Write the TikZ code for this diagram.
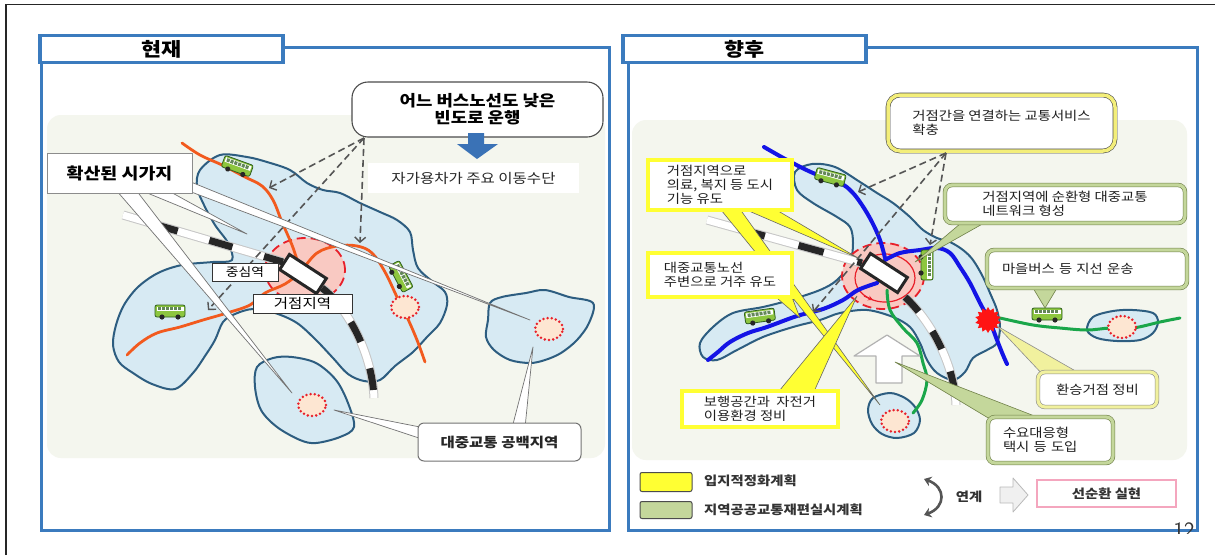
\documentclass[tikz,border=0pt]{standalone}
\usepackage{fontspec}
\newfontfamily\kr[FakeStretch=1.15]{Noto Sans CJK KR}
\newcommand\krfont[2]{\kr\fontsize{#1}{#2}\selectfont}
\usetikzlibrary{arrows.meta,shapes.geometric,calc}

\definecolor{frameblue}{HTML}{3B7BBE}
\definecolor{bgpale}{HTML}{F4F6EE}
\definecolor{islandfill}{HTML}{D7EAF3}
\definecolor{islandline}{HTML}{2D5D80}
\definecolor{orangeline}{HTML}{F25A1E}
\definecolor{blueline}{HTML}{1414E6}
\definecolor{greenline}{HTML}{1AA64A}
\definecolor{pinkzone}{HTML}{F9C9C2}
\definecolor{redmark}{HTML}{E8202A}
\definecolor{peach}{HTML}{FDE6D2}
\definecolor{calloutyellow}{HTML}{FFFF33}
\definecolor{calloutgreen}{HTML}{C4D79B}
\definecolor{gedge}{HTML}{6F8048}
\definecolor{paleyellow}{HTML}{F1F19E}
\definecolor{linkyellow}{HTML}{F3EE7A}
\definecolor{arrowblue}{HTML}{3A72B6}
\definecolor{dashgray}{HTML}{555555}
\definecolor{busgreen}{HTML}{8DC63F}
\definecolor{busedge}{HTML}{2F5F20}
\definecolor{pinkborder}{HTML}{F4A6BE}
\definecolor{redstar}{HTML}{FF1414}

\begin{document}
\begin{tikzpicture}[x=1pt, y=-1pt,
  panelframe/.style={draw=frameblue, line width=3pt},
  headbox/.style={draw=frameblue, line width=3.5pt, fill=white, inner sep=0pt,
    minimum width=243pt, minimum height=27pt, font={\krfont{19}{20}\bfseries}},
  island/.style={fill=islandfill, draw=islandline, line width=2pt, line join=round},
  orangeroute/.style={draw=orangeline, line width=2.8pt, line cap=round, line join=round},
  blueroute/.style={draw=blueline, line width=4pt, line cap=round, line join=round},
  greenroute/.style={draw=greenline, line width=3pt, line cap=round, line join=round},
  reddash/.style={draw=redmark, line width=1.8pt, dash pattern=on 9pt off 5pt},
  dotcircle/.style={draw=redmark, fill=peach, line width=2.8pt, line cap=round, dash pattern=on 0pt off 4.2pt},
  rail/.style={draw=white, line width=7pt,
    preaction={draw=gray!45, line width=9pt}},
  raildash/.style={draw=black!85, line width=7pt},
  station/.style={draw=black!85, line width=3pt, fill=white, inner sep=0pt,
    minimum width=44pt, minimum height=18pt},
  dasharrow/.style={draw=dashgray, line width=1.6pt, dash pattern=on 7pt off 4pt,
    -{Straight Barb[length=5pt, width=11pt, line width=1.4pt]}},
  wwedge/.style={fill=white, draw=black!55, line width=0.7pt, line join=round},
  ywedge/.style={fill=calloutyellow, draw=black!60, line width=0.6pt, line join=round},
  gwedge/.style={fill=calloutgreen, draw=gedge, line width=0.6pt, line join=round},
  pwedge/.style={fill=paleyellow, draw=black!45, line width=0.6pt, line join=round},
  label box/.style={draw=black!80, line width=1pt, fill=white, inner sep=0pt},
  ybox/.style={draw=black!70, double=calloutyellow, double distance=3.2pt, line width=0.6pt,
    fill=white, align=left, inner sep=0pt, font={\krfont{12.5}{14}}, text=black!88},
  gbox/.style={draw=gedge, double=calloutgreen, double distance=3.2pt, line width=0.6pt,
    fill=white, rounded corners=7pt, align=left, inner sep=0pt, font={\krfont{12.5}{14}}, text=black!88},
  pbox/.style={draw=black!45, double=paleyellow, double distance=3.2pt, line width=0.6pt,
    fill=white, rounded corners=7pt, inner sep=0pt, font={\krfont{12.5}{14}}, text=black!88},
  bus/.pic={
    \filldraw[fill=busgreen, draw=busedge, line width=0.8pt, rounded corners=2pt] (-15,-7) rectangle (15,5);
    \fill[white] (-13.5,-5.5) rectangle (13.5,-0.8);
    \foreach \wx in {-12,-8,-4,0,4,8} \fill[busedge!75] (\wx,-5) rectangle ({\wx+3},-1.6);
    \fill[black!85] (-8,5) circle[radius=2.6pt] (8,5) circle[radius=2.6pt];
  }
]
\useasboundingbox (0,0) rectangle (1215,555);
\fill[white] (0,0) rectangle (1215,555);

% page edge
\draw[line width=1.3pt, black!85] (6,555) -- (6,4.5) -- (1215,4.5);

% ================= left panel : present =================
\draw[panelframe] (41,49) |- (609,530) |- (283,47);
\fill[bgpale, rounded corners=14pt] (47,115) rectangle (605,458);

% built-up areas
\draw[island] plot[smooth cycle, tension=0.55] coordinates {
  (200,170) (220,155) (247,157) (267,162) (290,170) (307,183) (323,190) (340,193)
  (360,203) (380,212) (397,220) (410,232) (413,250) (418,268) (433,282) (445,292)
  (447,305) (440,323) (427,337) (413,352) (395,366) (380,380) (364,381) (348,374)
  (333,358) (316,340) (297,323) (275,313) (253,309) (235,314) (223,322) (215,340)
  (205,356) (193,373) (175,389) (152,384) (133,373) (119,362) (113,345) (116,325)
  (124,305) (138,287) (158,273) (182,265) (213,262) (232,260) (228,243) (215,225)
  (204,205) (197,187)};
\draw[island] plot[smooth cycle, tension=0.55] coordinates {
  (257,367) (255,387) (261,410) (277,427) (300,440) (316,443) (340,437) (354,427)
  (348,403) (336,380) (316,363) (292,357) (273,358)};
\draw[island] plot[smooth cycle, tension=0.55] coordinates {
  (490,303) (502,297) (526,293) (545,290) (569,297) (593,303) (589,323) (577,340)
  (561,353) (545,360) (530,363) (510,360) (494,350) (486,337) (488,320)};

% hub zone
\fill[pinkzone] (305,270) ellipse[x radius=40pt, y radius=32pt];
\draw[reddash] (305,270) ellipse[x radius=40pt, y radius=32pt];

% bus routes
\draw[orangeroute] plot[smooth, tension=0.6] coordinates {
  (182,143) (200,155) (222,165) (245,177) (262,186) (273,200) (282,222) (292,245) (298,262) (303,270)};
\draw[orangeroute] plot[smooth, tension=0.6] coordinates {
  (127,355) (140,343) (157,333) (180,327) (203,320) (227,313) (250,305) (265,293)
  (285,284) (300,272) (317,253) (337,246) (357,246) (372,253) (385,272) (397,297)
  (407,317) (417,340) (425,362)};

% railway
\draw[rail] (123,215) -- (283,262);
\draw[raildash, dash pattern=on 24pt off 33pt, dash phase=24pt] (123,215) -- (283,262);
\draw[rail] (322,288) .. controls (345,305) and (372,350) .. (374,398);
\draw[raildash, dash pattern=on 22pt off 28pt, dash phase=5pt] (322,288) .. controls (345,305) and (372,350) .. (374,398);
\node[station, rotate=-33] (stationL) at (303,274) {};

% areas without transit
\draw[dotcircle] (405,307) ellipse[x radius=14pt, y radius=11pt];
\draw[dotcircle] (312,405) ellipse[x radius=14pt, y radius=11pt];
\draw[dotcircle] (549,329) ellipse[x radius=14pt, y radius=11pt];

% buses
\pic[rotate=-20] at (237,167) {bus};
\pic at (170,312) {bus};
\pic[rotate=-62] at (400,277) {bus};

% low-frequency bus notes
\node[draw=black!70, line width=1.1pt, fill=white, rounded corners=16pt, inner sep=0pt,
  minimum width=251pt, minimum height=55pt, align=center,
  font={\krfont{15.5}{17}\bfseries}] (noteFreq) at (477.5,109.5) {어느 버스노선도 낮은\\빈도로 운행};
\fill[arrowblue] (468,133) -- (484,133) -- (484,144) -- (498,144) -- (477,159) -- (457,144) -- (468,144) -- cycle;
\node[fill=white, inner sep=0pt, minimum width=211pt, minimum height=30pt,
  font={\krfont{13.5}{15}}, text=black!85] (carText) at (473.5,178) {자가용차가 주요 이동수단};

\coordinate (freqSrc) at (364,138);
\coordinate (freqA) at (269,188);
\coordinate (freqB) at (208,310);
\coordinate (freqC) at (360,243);
\draw[dasharrow] (freqSrc) -- (freqA);
\draw[dasharrow] (freqSrc) -- (freqB);
\draw[dasharrow] (freqSrc) -- (freqC);

% station labels
\node[label box, minimum width=66pt, minimum height=18pt, font={\krfont{12}{13}}] (lblCenter) at (245,272) {중심역};
\node[label box, minimum width=99pt, minimum height=19pt, font={\krfont{13.5}{14}}] (lblHub) at (302.5,303.5) {거점지역};

% sprawl pointers
\coordinate (sprawlA) at (292,393);
\coordinate (sprawlB) at (247,234);
\coordinate (sprawlC) at (530,320);
\filldraw[wwedge] (116,190) -- (sprawlA) -- (136,190) -- cycle;
\filldraw[wwedge] (140,190) -- (sprawlB) -- (167,190) -- cycle;
\filldraw[wwedge] (186,180) -- (sprawlC) -- (186,190) -- cycle;
\node[draw=black!45, line width=1pt, fill=white, inner sep=0pt, minimum width=145pt, minimum height=40pt,
  font={\krfont{16}{17}\bfseries}] (sprawl) at (119.5,173) {확산된 시가지};

% transit gap pointers
\coordinate (gapA) at (334,410);
\coordinate (gapB) at (533,347);
\filldraw[wwedge] (425,428) -- (gapA) -- (425,440) -- cycle;
\filldraw[wwedge] (512,428) -- (gapB) -- (525,428) -- cycle;
\node[draw=black!55, line width=1pt, fill=white, rounded corners=6pt, inner sep=0pt,
  minimum width=163pt, minimum height=38pt, font={\krfont{13.5}{15}\bfseries}, text=black!85]
  (noTransit) at (499.5,442) {대중교통 공백지역};

\node[headbox] (hdrL) at (161.5,49) {현재};

% ================= right panel : future =================
\draw[panelframe] (628,49) |- (1197,530) |- (866,47);
\fill[bgpale, rounded corners=14pt] (632,120) rectangle (1187,460);

\draw[island] plot[smooth cycle, tension=0.55] coordinates {
  (795,172) (812,164) (835,167) (860,182) (877,193) (893,203) (910,217) (923,230)
  (937,238) (950,242) (963,250) (973,260) (983,277) (990,293) (997,310) (1000,327)
  (997,343) (987,350) (973,358) (965,372) (953,380) (937,373) (927,360) (920,343)
  (910,327) (893,317) (867,310) (840,313) (820,320) (793,327) (763,337) (737,350)
  (717,360) (703,357) (700,343) (713,327) (733,313) (763,307) (790,300) (820,290)
  (837,280) (850,263) (853,243) (850,227) (837,217) (813,203) (797,190)};
\draw[island] plot[smooth cycle, tension=0.55] coordinates {
  (868,410) (873,398) (890,393) (905,398) (915,407) (920,420) (914,433) (897,438) (882,434) (872,424)};
\draw[island] plot[smooth cycle, tension=0.55] coordinates {
  (1087,330) (1093,317) (1113,311) (1133,310) (1153,313) (1158,322) (1153,333) (1140,340) (1117,341) (1097,338)};

% hub zone with loop service
\fill[pinkzone] (883,276) ellipse[x radius=41pt, y radius=33pt];
\draw[reddash] (883,276) ellipse[x radius=41pt, y radius=33pt];
\draw[draw=redmark, line width=1.2pt] (885,278) ellipse[x radius=30pt, y radius=24pt];
\draw[redmark, line width=1.2pt, -{Stealth[length=5pt, width=5pt]}] (864,296) -- (873,300);

% routes
\draw[blueroute] plot[smooth, tension=0.6] coordinates {
  (764,147) (787,160) (813,173) (840,183) (852,192) (862,205) (872,222) (880,240) (885,258)};
\draw[blueroute] plot[smooth, tension=0.6] coordinates {
  (885,260) (900,253) (920,250) (937,248) (950,253) (960,267) (970,283) (980,303) (990,322) (997,340) (1003,355) (1007,364)};
\draw[blueroute] plot[smooth, tension=0.6] coordinates {
  (708,360) (718,352) (730,342) (748,333) (767,327) (797,316) (823,309) (843,300) (858,290) (877,283)};
\draw[greenroute] plot[smooth, tension=0.6] coordinates {
  (887,290) (890,310) (903,328) (917,343) (923,363) (927,380) (922,400) (913,413)};
\draw[greenroute] plot[smooth, tension=0.6] coordinates {
  (1000,318) (1033,325) (1060,328) (1087,330) (1110,328) (1133,328) (1160,322) (1180,318)};

% railway
\draw[rail] (707,220) -- (862,263);
\draw[raildash, dash pattern=on 26pt off 35pt, dash phase=27pt] (707,220) -- (862,263);
\draw[rail] (905,297) .. controls (935,325) and (955,370) .. (956,405);
\draw[raildash, dash pattern=on 20pt off 24pt] (905,297) .. controls (935,325) and (955,370) .. (956,405);
\node[station, rotate=-33] (stationR) at (884,273) {};

% transfer point and outlying areas
\node[star, star points=14, star point ratio=1.35, fill=redstar, minimum size=26pt, inner sep=0pt] (transferHub) at (988,320) {};
\draw[dotcircle] (1122,327) ellipse[x radius=14pt, y radius=11pt];
\draw[dotcircle] (895,421) ellipse[x radius=14pt, y radius=11pt];

% buses
\pic[rotate=-15] at (830,178) {bus};
\pic[rotate=-90] at (926,265) {bus};
\pic[rotate=8] at (760,317) {bus};
\pic at (1047,315) {bus};

% demand-responsive growth arrow
\filldraw[fill=white, draw=gray!60, line width=1.2pt, line join=round]
  (887,335) -- (920,356) -- (902,356) -- (902,383) -- (876,383) -- (876,356) -- (854,356) -- cycle;

% links between hubs
\node[draw=black!70, double=linkyellow, double distance=3.5pt, line width=0.6pt, fill=white,
  rounded corners=12pt, inner sep=0pt, minimum width=227pt, minimum height=56pt, align=left,
  font={\krfont{12.5}{14}}, text=black!88] (linkNote) at (1001.5,123) {거점간을 연결하는 교통서비스\\확충};
\coordinate (linkSrc) at (946,153);
\coordinate (linkA) at (858,192);
\coordinate (linkB) at (930,245);
\coordinate (linkC) at (813,312);
\draw[dasharrow] (linkSrc) -- (linkA);
\draw[dasharrow] (linkSrc) -- (linkB);
\draw[dasharrow] (linkSrc) -- (linkC);

% pointer tips
\coordinate (tipHub) at (858,258);
\coordinate (tipIsland) at (880,405);
\coordinate (tipCorridor) at (800,318);
\coordinate (tipWalk) at (857,296);
\coordinate (tipLoop) at (915,262);
\coordinate (tipFeeder) at (1045,308);
\coordinate (tipTransfer) at (997,326);
\coordinate (tipDrt) at (895,362);

\filldraw[ywedge] (717,205) -- (tipIsland) -- (737,205) -- cycle;
\filldraw[ywedge] (735,205) -- (tipHub) -- (768,205) -- cycle;
\filldraw[ywedge] (770,292) -- (tipCorridor) -- (790,292) -- cycle;
\filldraw[ywedge] (775,396) -- (tipWalk) -- (812,396) -- cycle;
\filldraw[gwedge] (967,218) -- (tipLoop) -- (993,218) -- cycle;
\filldraw[gwedge] (1030,283) -- (tipFeeder) -- (1060,283) -- cycle;
\filldraw[pwedge] (1045,377) -- (tipTransfer) -- (1086,377) -- cycle;
\filldraw[gwedge] (995,422) -- (tipDrt) -- (1050,422) -- cycle;

% plan callouts
\node[ybox, minimum width=144pt, minimum height=50pt] (gatherNote) at (720,185) {거점지역으로\\의료, 복지 등 도시\\기능 유도};
\node[ybox, minimum width=144pt, minimum height=44pt] (corridorNote) at (720,275) {대중교통노선\\주변으로 거주 유도};
\node[ybox, minimum width=156pt, minimum height=36pt] (walkNote) at (760,409) {보행공간과\ \ 자전거\\이용환경 정비};
\node[gbox, minimum width=240pt, minimum height=38pt] (loopNote) at (1065,204) {거점지역에 순환형 대중교통\\네트워크 형성};
\node[gbox, text width=170pt, inner xsep=15pt, minimum height=38pt] (feederNote) at (1087,269) {마을버스 등 지선 운송};
\node[pbox, minimum width=119pt, minimum height=35pt] (transferNote) at (1097.5,389.5) {환승거점 정비};
\node[gbox, text width=95pt, inner xsep=15pt, minimum height=46pt] (drtNote) at (1050.5,440) {수요대응형\\택시 등 도입};

% legend
\node[draw=black!70, line width=1pt, fill=calloutyellow, rounded corners=2pt, inner sep=0pt,
  minimum width=52pt, minimum height=19pt] (legY) at (666,482) {};
\node[draw=black!70, line width=1pt, fill=calloutgreen, rounded corners=2pt, inner sep=0pt,
  minimum width=52pt, minimum height=17pt] (legG) at (666,510) {};
\node[anchor=west, inner sep=0pt, font={\krfont{12.5}{14}\bfseries}, text=black!80] (legYtxt) at (704,481) {입지적정화계획};
\node[anchor=west, inner sep=0pt, font={\krfont{12.5}{14}\bfseries}, text=black!80] (legGtxt) at (704,510) {지역공공교통재편실시계획};

\coordinate (linkTop) at (924,479);
\coordinate (linkBot) at (924,515);
\draw[dashgray, line width=2.6pt, {Stealth[length=7pt, width=10pt]}-{Stealth[length=7pt, width=10pt]}]
  (linkTop) .. controls (946,487) and (946,507) .. (linkBot);
\node[inner sep=0pt, font={\krfont{12.5}{14}\bfseries}, text=black!80] (linkWord) at (969,497) {연계};
\filldraw[fill=gray!12, draw=gray!55, line width=0.8pt, line join=round]
  (1000,487) -- (1013,487) -- (1013,478) -- (1028,495) -- (1013,512) -- (1013,503) -- (1000,503) -- cycle;
\node[draw=pinkborder, line width=1.2pt, fill=white, inner sep=0pt, minimum width=139pt, minimum height=27pt,
  font={\krfont{12.5}{14}\bfseries}, text=black!80] (cycleNote) at (1106.5,493.5) {선순환 실현};

\node[headbox] (hdrR) at (744.5,49) {향후};

% page number, cut at the page foot
\node[anchor=north, inner sep=0pt, font=\sffamily\fontsize{22}{22}\selectfont, text=black!80] (pageNo) at (1184,523) {12};
\fill[white] (1150,533.5) rectangle (1215,555);
\end{tikzpicture}
\end{document}
